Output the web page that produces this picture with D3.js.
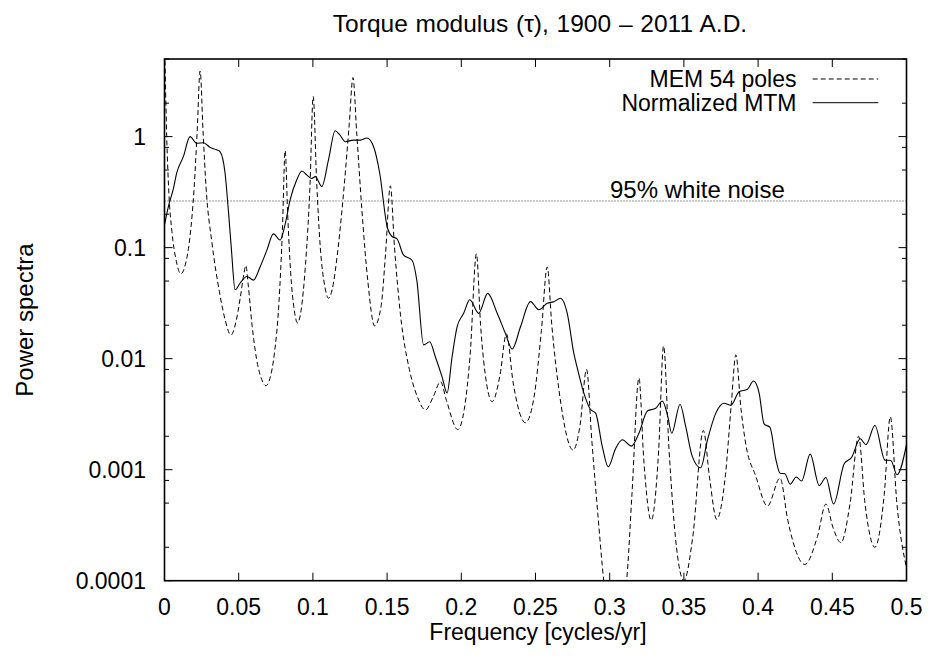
<!DOCTYPE html>
<html>
<head>
<meta charset="utf-8">
<script src="https://cdn.jsdelivr.net/npm/d3@7"></script>
<style>
  html, body { margin: 0; padding: 0; background: #fff; }
  text { font-family: "Liberation Sans", Arial, sans-serif; fill: #000; }
</style>
</head>
<body>
<div id="chart"></div>
<script>
// MEM spectrum (54 poles).
const memFreq = [
  0, 0.0015, 0.003, 0.005, 0.008, 0.011, 0.014, 0.017, 0.02, 0.022, 0.024, 0.026, 0.028, 0.032, 0.037,
  0.041, 0.0447, 0.048, 0.051, 0.0535, 0.0548, 0.0565, 0.059, 0.062, 0.0655, 0.0683, 0.071, 0.074,
  0.077, 0.0795, 0.0813, 0.083, 0.085, 0.0875, 0.0896, 0.092, 0.095, 0.098, 0.1002, 0.1025, 0.105,
  0.108, 0.1105, 0.113, 0.117, 0.121, 0.1245, 0.127, 0.1295, 0.133, 0.137, 0.1416, 0.146, 0.149,
  0.1522, 0.155, 0.159, 0.165, 0.1705, 0.1758, 0.181, 0.186, 0.19, 0.1976, 0.202, 0.206, 0.2102,
  0.213, 0.217, 0.2208, 0.226, 0.2304, 0.235, 0.2432, 0.249, 0.254, 0.2579, 0.261, 0.266, 0.2754,
  0.28, 0.2844, 0.288, 0.292, 0.296, 0.3037, 0.3114, 0.315, 0.3197, 0.323, 0.328, 0.333, 0.3363,
  0.34, 0.345, 0.35, 0.356, 0.3631, 0.3675, 0.3721, 0.378, 0.382, 0.385, 0.3885, 0.3917, 0.3985,
  0.4063, 0.4148, 0.42, 0.4315, 0.44, 0.4457, 0.4505, 0.4558, 0.462, 0.4677, 0.472, 0.4787, 0.485,
  0.4891, 0.4935, 0.5
];
const memPower = [
  8, 1.0, 0.3, 0.14, 0.075, 0.058, 0.07, 0.12, 0.35, 1.1, 3.9, 1.1, 0.35, 0.11, 0.04,
  0.022, 0.0163, 0.021, 0.035, 0.058, 0.069, 0.045, 0.02, 0.01, 0.0065, 0.0057, 0.0066, 0.011,
  0.03, 0.15, 0.75, 0.2, 0.06, 0.027, 0.021, 0.027, 0.07, 0.35, 2.3, 0.4, 0.1,
  0.045, 0.035, 0.042, 0.1, 0.35, 1.3, 3.4, 1.1, 0.22, 0.05, 0.0197, 0.03, 0.09,
  0.36, 0.1, 0.025, 0.008, 0.0045, 0.00345, 0.0045, 0.0062, 0.0042, 0.0023, 0.0035, 0.011, 0.088,
  0.02, 0.006, 0.0041, 0.007, 0.0167, 0.006, 0.00265, 0.0045, 0.018, 0.067, 0.02, 0.005, 0.0015,
  0.0025, 0.008, 0.0018, 0.0004, 0.0001, 0.00003, 0.0001, 0.0006, 0.0067, 0.0012, 0.00035, 0.0015, 0.013,
  0.0015, 0.0002, 0.0001, 0.00025, 0.00225, 0.0008, 0.000357, 0.0009, 0.004, 0.0108, 0.0035, 0.0017, 0.00087,
  0.00047, 0.00084, 0.00035, 0.00014, 0.00025, 0.00049, 0.0003, 0.00022, 0.0005, 0.002, 0.0005, 0.0002, 0.0006,
  0.003, 0.0005, 0.00013
];

// Normalized MTM spectrum.
const mtmFreq = [
  0, 0.0026, 0.006, 0.0082, 0.0127, 0.0172, 0.0217, 0.0262, 0.0307, 0.0352, 0.0375, 0.0408, 0.043,
  0.045, 0.0476, 0.051, 0.0555, 0.06, 0.0644, 0.069, 0.0734, 0.0779, 0.0812, 0.0847, 0.0892, 0.0926,
  0.096, 0.0993, 0.1016, 0.106, 0.1105, 0.115, 0.118, 0.1218, 0.1274, 0.132, 0.1364, 0.1409, 0.145,
  0.15, 0.1533, 0.1567, 0.161, 0.1668, 0.17, 0.1746, 0.1787, 0.1825, 0.187, 0.1904, 0.1938, 0.1972,
  0.2016, 0.2057, 0.2117, 0.2178, 0.2242, 0.2297, 0.2343, 0.2399, 0.2466, 0.2522, 0.2579, 0.2624,
  0.2669, 0.2714, 0.2758, 0.2785, 0.2826, 0.287, 0.2905, 0.295, 0.299, 0.304, 0.3085, 0.3146, 0.3197,
  0.3254, 0.331, 0.3355, 0.3389, 0.3418, 0.3474, 0.3512, 0.3557, 0.3613, 0.3659, 0.3715, 0.3771,
  0.3816, 0.3872, 0.3928, 0.3969, 0.4007, 0.404, 0.408, 0.412, 0.4148, 0.418, 0.4216, 0.4257, 0.4293,
  0.4351, 0.4412, 0.4457, 0.4509, 0.458, 0.463, 0.4688, 0.4727, 0.4787, 0.4855, 0.4895, 0.4936, 0.5
];
const mtmPower = [
  0.16, 0.234, 0.34, 0.468, 0.66, 1.0, 0.87, 0.88, 0.8, 0.76, 0.73, 0.47, 0.22,
  0.1, 0.0417, 0.048, 0.055, 0.051, 0.067, 0.095, 0.133, 0.117, 0.16, 0.27, 0.41, 0.49,
  0.45, 0.42, 0.436, 0.355, 0.617, 1.13, 1.04, 0.9, 0.93, 0.93, 0.97, 0.81, 0.47,
  0.155, 0.126, 0.12, 0.086, 0.077, 0.051, 0.0133, 0.0142, 0.0104, 0.0069, 0.0049, 0.0104, 0.0194,
  0.0256, 0.0339, 0.0256, 0.0387, 0.0256, 0.0169, 0.0122, 0.0194, 0.0326, 0.0276, 0.0315, 0.0326,
  0.035, 0.0256, 0.0112, 0.0079, 0.0049, 0.0035, 0.00323, 0.00162, 0.00106, 0.00155, 0.00186, 0.00163, 0.00213,
  0.00338, 0.00357, 0.00416, 0.00312, 0.00213, 0.00389, 0.00245, 0.00131, 0.00104, 0.00186, 0.00323, 0.00397,
  0.0038, 0.00503, 0.0053, 0.0063, 0.0049, 0.00259, 0.0024, 0.00123, 0.00093, 0.00092, 0.00074, 0.00086, 0.00079,
  0.00138, 0.00072, 0.00085, 0.00049, 0.00113, 0.00129, 0.0019, 0.00168, 0.0025, 0.00122, 0.00121, 0.0009, 0.00168
];

// 95% white noise confidence level.
const noiseLevel = 0.263;

// Tick labels.
const xTicks = [0, 0.05, 0.1, 0.15, 0.2, 0.25, 0.3, 0.35, 0.4, 0.45, 0.5];
const yTicks = [0.0001, 0.001, 0.01, 0.1, 1];
const yMinorMultipliers = [2, 5, 8];

/**
 * Renders the power spectra chart.
 *
 * @param {string} selector - Where to put the svg.
 * @returns {void}
 */
function PowerSpectra(selector) {
  /**
   * Parameters.
   */
  const width = 932;
  const height = 660;
  const plot = { left: 164.5, right: 906.5, top: 59, bottom: 580.7 };
  const tickFont = 23;
  const labelFont = 24;

  /**
   * SVG container.
   */
  const container = d3.select(selector);
  container.selectAll("*").remove();

  const svg = container
    .append("svg")
    .attr("width", width)
    .attr("height", height)
    .attr("viewBox", `0 0 ${width} ${height}`);

  /**
   * Scales.
   */
  const x = d3.scaleLinear().domain([0, 0.5]).range([plot.left, plot.right]);
  const y = d3.scaleLog().domain([0.0001, 5]).range([plot.bottom, plot.top]);

  /**
   * Ticks (mirrored on all four sides, pointing inwards).
   */
  const majorLen = 8;
  const minorLen = 4.5;
  const tickGroup = svg.append("g").attr("stroke", "#000").attr("stroke-width", 1);

  xTicks.forEach((t) => {
    tickGroup.append("line")
      .attr("x1", x(t)).attr("x2", x(t))
      .attr("y1", plot.bottom).attr("y2", plot.bottom - majorLen);
    tickGroup.append("line")
      .attr("x1", x(t)).attr("x2", x(t))
      .attr("y1", plot.top).attr("y2", plot.top + majorLen);
  });

  // Major and minor y ticks.
  const yMinor = [];
  yTicks.concat([10]).forEach((base) => {
    yMinorMultipliers.forEach((m) => {
      const v = base * m;
      if (v <= y.domain()[1] + 1e-9) yMinor.push(v);
    });
  });

  yTicks.forEach((t) => {
    tickGroup.append("line")
      .attr("x1", plot.left).attr("x2", plot.left + majorLen)
      .attr("y1", y(t)).attr("y2", y(t));
    tickGroup.append("line")
      .attr("x1", plot.right).attr("x2", plot.right - majorLen)
      .attr("y1", y(t)).attr("y2", y(t));
  });
  yMinor.forEach((t) => {
    tickGroup.append("line")
      .attr("x1", plot.left).attr("x2", plot.left + minorLen)
      .attr("y1", y(t)).attr("y2", y(t));
    tickGroup.append("line")
      .attr("x1", plot.right).attr("x2", plot.right - minorLen)
      .attr("y1", y(t)).attr("y2", y(t));
  });

  /**
   * Tick labels.
   */
  svg.append("g")
    .selectAll("text")
    .data(xTicks)
    .enter()
    .append("text")
    .attr("x", (d) => x(d))
    .attr("y", 614.5)
    .attr("text-anchor", "middle")
    .style("font-size", `${tickFont}px`)
    .text((d) => d3.format("")(d));

  svg.append("g")
    .selectAll("text")
    .data(yTicks)
    .enter()
    .append("text")
    .attr("x", 146)
    .attr("y", (d) => y(d))
    .attr("dy", "0.36em")
    .attr("text-anchor", "end")
    .style("font-size", `${tickFont}px`)
    .text((d) => String(d));

  /**
   * Titles.
   */
  svg.append("text")
    .attr("x", 540)
    .attr("y", 31.5)
    .attr("text-anchor", "middle")
    .style("font-size", "24.5px")
    .style("word-spacing", "1px")
    .text("Torque modulus (\u03c4), 1900 \u2013 2011 A.D.");

  svg.append("text")
    .attr("x", 538)
    .attr("y", 640)
    .attr("text-anchor", "middle")
    .style("font-size", `${tickFont}px`)
    .text("Frequency [cycles/yr]");

  svg.append("text")
    .attr("transform", "translate(33, 320) rotate(-90)")
    .attr("text-anchor", "middle")
    .style("font-size", `${labelFont}px`)
    .text("Power spectra");

  /**
   * Data visualization.
   */
  svg.append("clipPath")
    .attr("id", "plot-clip")
    .append("rect")
    .attr("x", plot.left)
    .attr("y", plot.top)
    .attr("width", plot.right - plot.left)
    .attr("height", plot.bottom - plot.top);

  const plotArea = svg.append("g").attr("clip-path", "url(#plot-clip)");

  // White noise level.
  plotArea.append("line")
    .attr("x1", plot.left).attr("x2", plot.right)
    .attr("y1", y(noiseLevel)).attr("y2", y(noiseLevel))
    .attr("stroke", "#000")
    .attr("stroke-width", 0.8)
    .attr("stroke-dasharray", "1,2");

  const line = d3.line()
    .x((d) => x(d[0]))
    .y((d) => y(d[1]))
    .curve(d3.curveMonotoneX);

  const memData = memFreq.map((f, i) => [f, memPower[i]]);
  const mtmData = mtmFreq.map((f, i) => [f, mtmPower[i]]);

  plotArea.append("path")
    .datum(memData)
    .attr("d", line)
    .attr("fill", "none")
    .attr("stroke", "#000")
    .attr("stroke-width", 1)
    .attr("stroke-dasharray", "5,3");

  plotArea.append("path")
    .datum(mtmData)
    .attr("d", line)
    .attr("fill", "none")
    .attr("stroke", "#000")
    .attr("stroke-width", 1.1);

  svg.append("text")
    .attr("x", 610)
    .attr("y", 197.5)
    .style("font-size", `${labelFont}px`)
    .text("95% white noise");

  /**
   * Legend.
   */
  const legend = [
    { label: "MEM 54 poles", dash: "5,3", y: 79 },
    { label: "Normalized MTM", dash: null, y: 102.7 },
  ];
  legend.forEach((item) => {
    svg.append("text")
      .attr("x", 796.5)
      .attr("y", item.y)
      .attr("dy", "0.36em")
      .attr("text-anchor", "end")
      .style("font-size", `${tickFont}px`)
      .text(item.label);
    svg.append("line")
      .attr("x1", 812.7).attr("x2", 878.3)
      .attr("y1", item.y).attr("y2", item.y)
      .attr("stroke", "#000")
      .attr("stroke-width", 1)
      .attr("stroke-dasharray", item.dash);
  });

  /**
   * Frame.
   */
  svg.append("rect")
    .attr("x", plot.left)
    .attr("y", plot.top)
    .attr("width", plot.right - plot.left)
    .attr("height", plot.bottom - plot.top)
    .attr("fill", "none")
    .attr("stroke", "#000")
    .attr("stroke-width", 1.6);
}

PowerSpectra("#chart");
</script>
</body>
</html>
